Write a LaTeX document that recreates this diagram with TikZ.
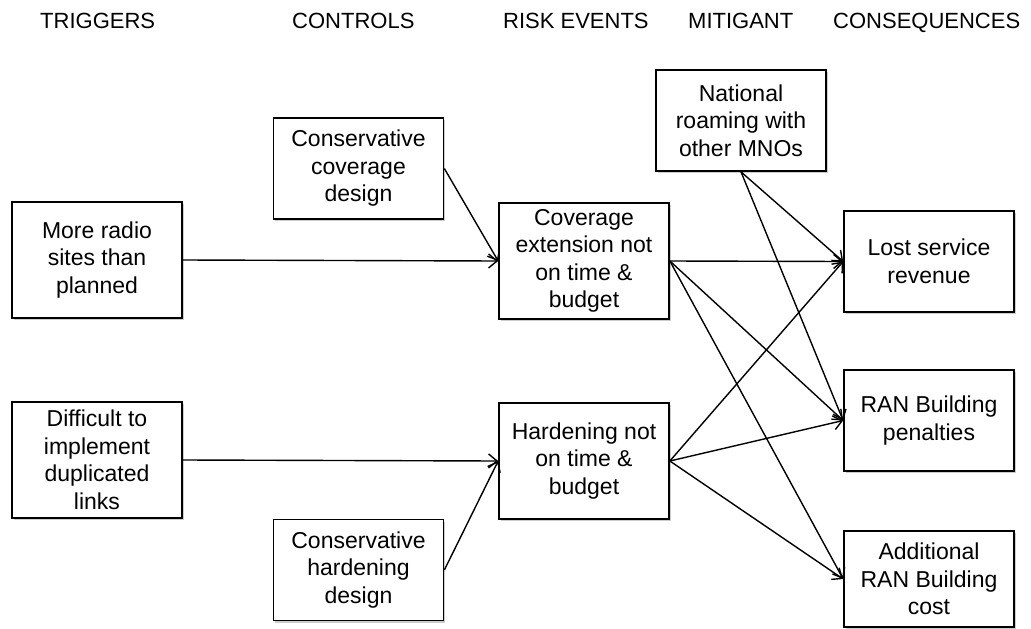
\documentclass[tikz,border=0pt]{standalone}
\usepackage{fontspec}
\setmainfont{Liberation Sans}
\usetikzlibrary{arrows.meta,shadows}
\begin{document}
\begin{tikzpicture}[x=1pt,y=-1pt,
  box/.style={draw, line width=1.7pt, fill=white, align=center, minimum width=170pt,
    inner sep=0pt, font=\fontsize{23}{27.5}\selectfont,
    drop shadow={shadow xshift=1.5pt,shadow yshift=-2pt,opacity=0.4}},
  head/.style={anchor=base west, font=\fontsize{22}{26}\selectfont, inner sep=0pt},
  link/.style={line width=1.4pt, -{Straight Barb[length=8.5pt,width=14pt,line width=1.4pt]}}]
\useasboundingbox (0,0) rectangle (1031,629);

% column headings
\node[head] (hTrig) at (40,28) {TRIGGERS};
\node[head] (hCtrl) at (292,28) {CONTROLS};
\node[head] (hRisk) at (503,28) {RISK EVENTS};
\node[head] (hMit)  at (688,28) {MITIGANT};
\node[head] (hCons) at (833,28) {CONSEQUENCES};

% triggers
\node[box, minimum height=116pt] (trig1) at (97,260) {More radio\\sites than\\planned};
\node[box, minimum height=116pt] (trig2) at (97,460) {Difficult to\\implement\\duplicated\\links};

% controls
\node[box, minimum height=101pt] (ctrl1) at (358.5,168.5) {Conservative\\coverage\\design};
\node[box, minimum height=101pt] (ctrl2) at (358.5,570) {Conservative\\hardening\\design};

% risk events
\node[box, minimum height=116pt] (risk1) at (584,261) {Coverage\\extension not\\on time \&\\budget};
\node[box, minimum height=116pt] (risk2) at (584,461) {Hardening not\\on time \&\\budget};

% mitigant
\node[box, minimum height=101pt] (mit) at (741,120.5) {National\\roaming with\\other MNOs};

% consequences
\node[box, minimum height=101pt] (cons1) at (929,261.5) {Lost service\\revenue};
\node[box, minimum height=101pt] (cons2) at (929,420.5) {RAN Building\\penalties};
\node[box, minimum height=96pt]  (cons3) at (929,579) {Additional\\RAN Building\\cost};

% causes into risk events
\draw[link] (trig1.east) -- (risk1.west);
\draw[link] (ctrl1.east) -- (risk1.west);
\draw[link] (trig2.east) -- (risk2.west);
\draw[link] (ctrl2.east) -- (risk2.west);

% risk events into consequences
\foreach \c in {cons1,cons2,cons3} {
  \draw[link] (risk1.east) -- (\c.west);
  \draw[link] (risk2.east) -- (\c.west);
}

% mitigant links
\draw[link] (mit.south) -- (cons1.west);
\draw[link] (mit.south) -- (cons2.west);
\end{tikzpicture}
\end{document}
